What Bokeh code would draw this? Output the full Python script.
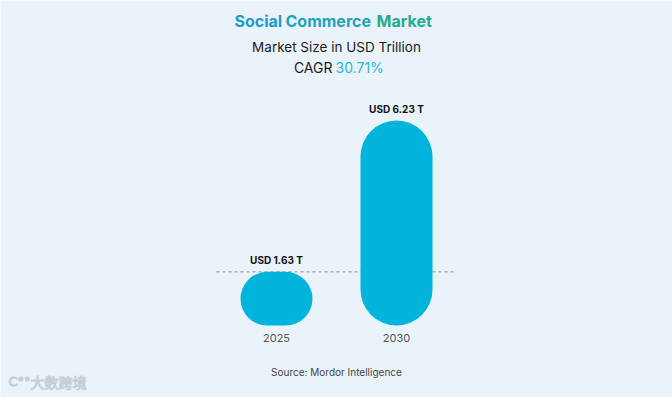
from bokeh.plotting import figure
from bokeh.models import Label, ColumnDataSource, Range1d
from bokeh.core.properties import value
from bokeh.embed import file_html
from bokeh.resources import INLINE

years = ["2025", "2030"]
sizes = [1.63, 6.23]
value_labels = ["USD 1.63 T", "USD 6.23 T"]
title_words = ["Social", "Commerce", "Market"]
subtitle = "Market Size in USD Trillion"
cagr = "30.71%"
source_text = "Source: Mordor Intelligence"

W, H = 672, 397
BG = "#e9f3f9"
BAR = "#00b4dc"
FONT = "Inter"

xpos = list(range(len(years)))
px_x = 120.0
x0_pix = 276.0
base_pix = 325.0
ppu = 205.0 / max(sizes)

p = figure(width=W, height=H, output_backend="svg", toolbar_location=None,
           min_border=0, outline_line_color=None,
           background_fill_color=BG, border_fill_color=BG)
p.x_range = Range1d(-x0_pix / px_x, (W - x0_pix) / px_x)
p.y_range = Range1d(-(H - base_pix) / ppu, base_pix / ppu)
p.axis.visible = False
p.grid.visible = False

src = ColumnDataSource(dict(x=xpos, top=sizes, year=years, lab=value_labels,
                            zero=[0] * len(years)))

# dashed reference line at the first value
p.line(x=[xpos[0] - 0.5, xpos[-1] + 0.5], y=[sizes[0], sizes[0]],
       line_color="#8a8f94", line_dash="3 3", line_width=1)

p.vbar(x="x", top="top", bottom=0, width=0.6, source=src, fill_color=BAR,
       line_color=None, border_radius=36)

p.text(x="x", y="top", text="lab", source=src, y_offset=-12,
       text_align="center", text_baseline="middle", text_font=value(FONT),
       text_font_size="10px", text_font_style="bold", text_color="#111111")
p.text(x="x", y="zero", text="year", source=src, y_offset=12,
       text_align="center", text_baseline="middle", text_font=value(FONT),
       text_font_size="11px", text_color="#555555")

def lab(text, x, y, size, color, align="center", style="normal", font=FONT):
    l = Label(x=x, y=H - y, x_units="screen", y_units="screen", text=text,
              text_align=align, text_baseline="middle", text_font=font,
              text_font_size=size, text_color=color, text_font_style=style)
    p.add_layout(l)
    return l

# title with gradient-like word colors
lab(title_words[0], 234, 20, "16px", "#1a9bcf", align="left", style="bold")
lab(title_words[1], 285, 20, "16px", "#1ea3b8", align="left", style="bold")
lab(title_words[2], 376, 20, "16px", "#27aa90", align="left", style="bold")
lab(subtitle, 336, 46, "13.5px", "#1a1a1a")
lab("CAGR", 332, 67, "14px", "#1a1a1a", align="right")
lab(cagr, 335, 67, "14px", "#29b6dc", align="left")
lab(source_text, 336, 371, "10px", "#444444")

wm = Label(x=30, y=H - 381, x_units="screen", y_units="screen", text="大数跨境",
           text_align="left", text_baseline="middle", text_font="Noto Sans CJK SC",
           text_font_size="14px", text_color="#ffffff", text_alpha=0.95,
           text_outline_color="#c3ccd4")
p.add_layout(wm)
wm2 = Label(x=8, y=H - 381, x_units="screen", y_units="screen", text="C°°",
            text_align="left", text_baseline="middle", text_font="DejaVu Sans",
            text_font_size="13px", text_color="#ffffff",
            text_outline_color="#c3ccd4")
p.add_layout(wm2)

open("out.html", "w").write(file_html(p, INLINE))
